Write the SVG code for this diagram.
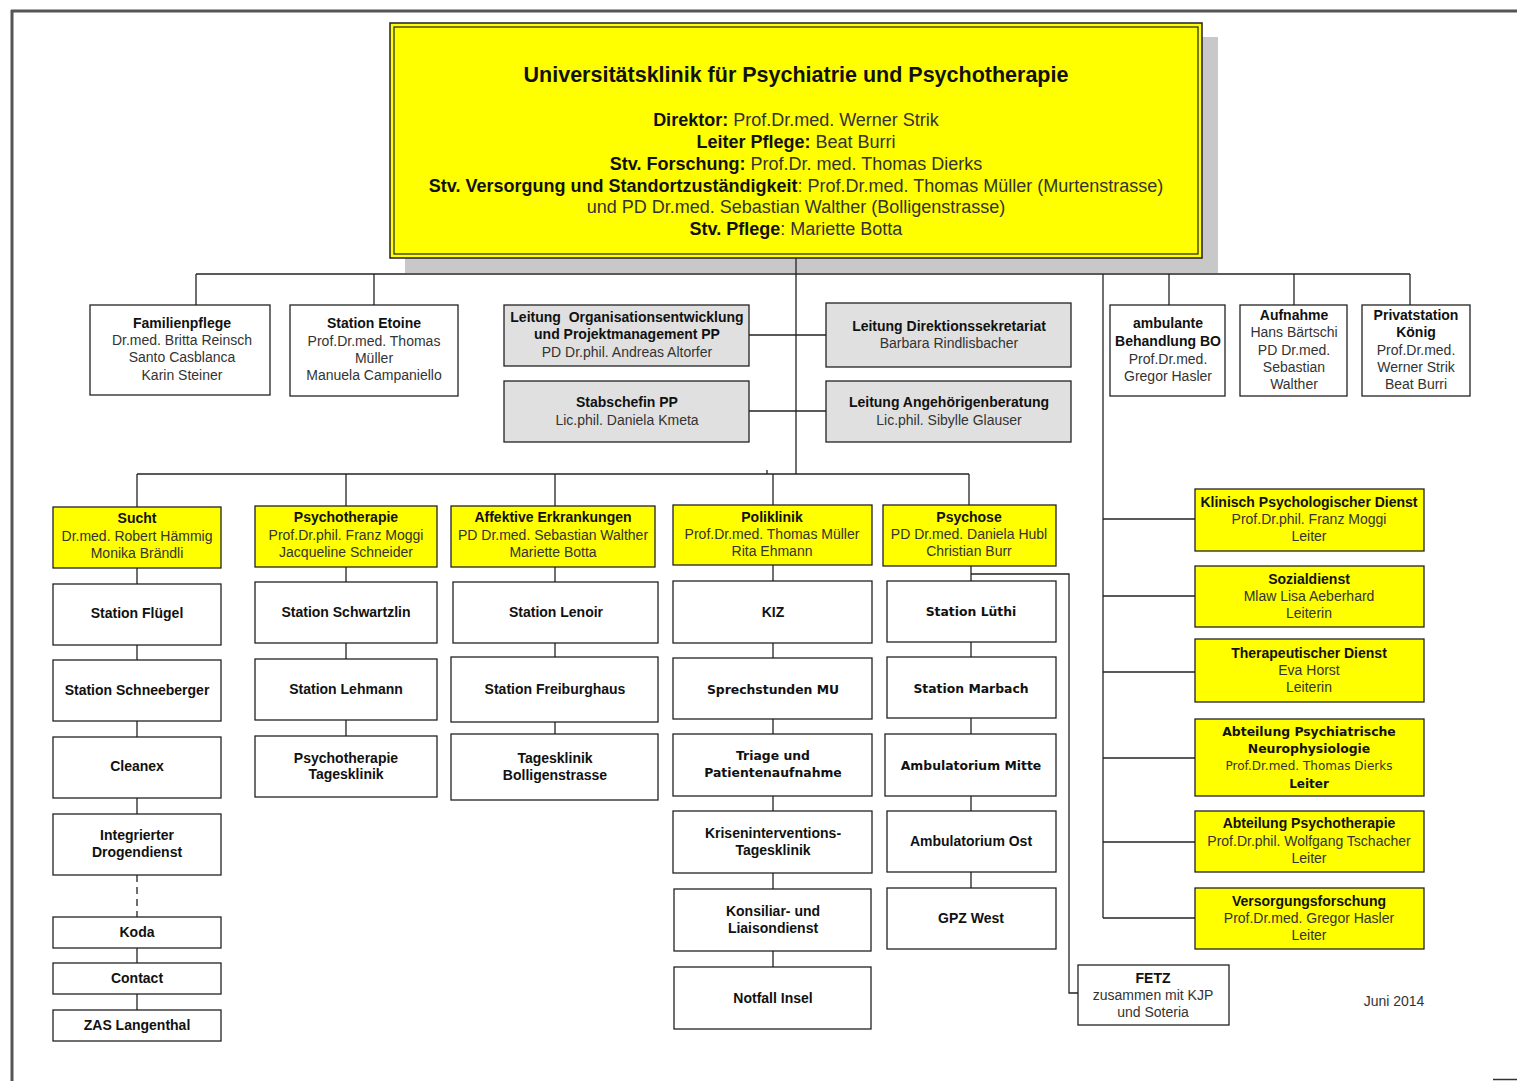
<svg xmlns="http://www.w3.org/2000/svg" width="1517" height="1081" viewBox="0 0 1517 1081">
<style>
text{font-family:"Liberation Sans",Arial,sans-serif;font-size:14px;text-anchor:middle;fill:#333}
.b{font-weight:bold;fill:#111}
.t{font-size:18px}
.h{font-size:21.5px;font-weight:bold;fill:#111}
.d{font-family:"DejaVu Sans",sans-serif;font-size:12.4px;font-weight:bold;fill:#111}
.dn{font-family:"DejaVu Sans",sans-serif;font-size:12px;fill:#333}
.w{fill:#fff;stroke:#222;stroke-width:1.3}
.g{fill:#e0e0e0;stroke:#222;stroke-width:1.3}
.y{fill:#ffff00;stroke:#222;stroke-width:1.3}
.c line,.c path{stroke:#222;stroke-width:1.3;fill:none}
</style>
<rect width="1517" height="1081" fill="#fff"/>
<g id="frame">
<line x1="12" y1="10" x2="12" y2="1081" stroke="#555" stroke-width="3"/>
<line x1="11" y1="11" x2="1517" y2="11" stroke="#555" stroke-width="3"/>
<line x1="1493" y1="1079.5" x2="1517" y2="1079.5" stroke="#333" stroke-width="1.5"/>
</g>
<rect x="405" y="37" width="813" height="236" fill="#c8c8c8"/>
<g class="c" id="connectors">
<line x1="796" y1="258" x2="796" y2="474"/>
<line x1="196" y1="274" x2="1410" y2="274"/>
<line x1="196" y1="274" x2="196" y2="305"/>
<line x1="374" y1="274" x2="374" y2="305"/>
<line x1="1169" y1="274" x2="1169" y2="305"/>
<line x1="1294" y1="274" x2="1294" y2="305"/>
<line x1="1410" y1="274" x2="1410" y2="305"/>
<line x1="749" y1="335" x2="826" y2="335"/>
<line x1="749" y1="411" x2="826" y2="411"/>
<line x1="137" y1="474" x2="969" y2="474"/>
<line x1="767" y1="470" x2="767" y2="474"/>
<line x1="137" y1="474" x2="137" y2="507"/>
<line x1="346" y1="474" x2="346" y2="506"/>
<line x1="555" y1="474" x2="555" y2="506"/>
<line x1="773" y1="474" x2="773" y2="505"/>
<line x1="969" y1="474" x2="969" y2="505"/>
<line x1="1103" y1="274" x2="1103" y2="918"/>
<line x1="1103" y1="519" x2="1195" y2="519"/>
<line x1="1103" y1="596" x2="1195" y2="596"/>
<line x1="1103" y1="672" x2="1195" y2="672"/>
<line x1="1103" y1="758" x2="1195" y2="758"/>
<line x1="1103" y1="842" x2="1195" y2="842"/>
<line x1="1103" y1="918" x2="1195" y2="918"/>
<line x1="137" y1="568" x2="137" y2="584"/>
<line x1="137" y1="645" x2="137" y2="660"/>
<line x1="137" y1="721" x2="137" y2="737"/>
<line x1="137" y1="798" x2="137" y2="814"/>
<line x1="137" y1="875" x2="137" y2="917" stroke="#888" stroke-dasharray="7,5"/>
<line x1="137" y1="948" x2="137" y2="963"/>
<line x1="137" y1="994" x2="137" y2="1010"/>
<line x1="346" y1="567" x2="346" y2="582"/>
<line x1="346" y1="643" x2="346" y2="659"/>
<line x1="346" y1="720" x2="346" y2="736"/>
<line x1="555" y1="567" x2="555" y2="582"/>
<line x1="555" y1="643" x2="555" y2="657"/>
<line x1="555" y1="722" x2="555" y2="734"/>
<line x1="773" y1="565" x2="773" y2="581"/>
<line x1="773" y1="643" x2="773" y2="658"/>
<line x1="773" y1="719" x2="773" y2="734"/>
<line x1="773" y1="796" x2="773" y2="811"/>
<line x1="773" y1="873" x2="773" y2="889"/>
<line x1="773" y1="951" x2="773" y2="967"/>
<line x1="971" y1="566" x2="971" y2="581"/>
<line x1="971" y1="642" x2="971" y2="657"/>
<line x1="971" y1="718" x2="971" y2="734" stroke="#999"/>
<line x1="971" y1="796" x2="971" y2="811" stroke="#999"/>
<line x1="971" y1="872" x2="971" y2="888"/>
<path d="M971 574 H1069 V993 H1078"/>
</g>
<g id="top">
<rect x="390" y="23" width="812" height="235" fill="#ffff00" stroke="#222" stroke-width="1.5"/>
<rect x="394" y="27" width="804" height="227" fill="none" stroke="#222" stroke-width="1.2"/>
<text class="h" x="796" y="82">Universitätsklinik für Psychiatrie und Psychotherapie</text>
<text class="t" x="796" y="126"><tspan class="b">Direktor:</tspan> Prof.Dr.med. Werner Strik</text>
<text class="t" x="796" y="148"><tspan class="b">Leiter Pflege:</tspan> Beat Burri</text>
<text class="t" x="796" y="170"><tspan class="b">Stv. Forschung:</tspan> Prof.Dr. med. Thomas Dierks</text>
<text class="t" x="796" y="192"><tspan class="b">Stv. Versorgung und Standortzuständigkeit</tspan>: Prof.Dr.med. Thomas Müller (Murtenstrasse)</text>
<text class="t" x="796" y="213">und PD Dr.med. Sebastian Walther (Bolligenstrasse)</text>
<text class="t" x="796" y="235"><tspan class="b">Stv. Pflege</tspan>: Mariette Botta</text>
</g>
<g id="familienpflege"><rect class="w" x="90" y="305" width="180" height="90"/>
<text class="b" x="182" y="328">Familienpflege</text><text x="182" y="345">Dr.med. Britta Reinsch</text><text x="182" y="362">Santo Casblanca</text><text x="182" y="380">Karin Steiner</text></g>
<g id="etoine"><rect class="w" x="290" y="305" width="168" height="91"/>
<text class="b" x="374" y="328">Station Etoine</text><text x="374" y="346">Prof.Dr.med. Thomas</text><text x="374" y="363">Müller</text><text x="374" y="380">Manuela Campaniello</text></g>
<g id="orgentw"><rect class="g" x="504" y="305" width="245" height="61"/>
<text class="b" x="627" y="322" xml:space="preserve">Leitung  Organisationsentwicklung</text><text class="b" x="627" y="339">und Projektmanagement PP</text><text x="627" y="357">PD Dr.phil. Andreas Altorfer</text></g>
<g id="direktion"><rect class="g" x="826" y="303" width="245" height="64"/>
<text class="b" x="949" y="331">Leitung Direktionssekretariat</text><text x="949" y="348">Barbara Rindlisbacher</text></g>
<g id="stabschefin"><rect class="g" x="504" y="381" width="245" height="61"/>
<text class="b" x="627" y="407">Stabschefin PP</text><text x="627" y="425">Lic.phil. Daniela Kmeta</text></g>
<g id="angehoerige"><rect class="g" x="826" y="381" width="245" height="61"/>
<text class="b" x="949" y="407">Leitung Angehörigenberatung</text><text x="949" y="425">Lic.phil. Sibylle Glauser</text></g>
<g id="ambulante"><rect class="w" x="1110" y="305" width="115" height="91"/>
<text class="b" x="1168" y="328">ambulante</text><text class="b" x="1168" y="346">Behandlung BO</text><text x="1168" y="364">Prof.Dr.med.</text><text x="1168" y="381">Gregor Hasler</text></g>
<g id="aufnahme"><rect class="w" x="1240" y="305" width="107" height="91"/>
<text class="b" x="1294" y="320">Aufnahme</text><text x="1294" y="337">Hans Bärtschi</text><text x="1294" y="355">PD Dr.med.</text><text x="1294" y="372">Sebastian</text><text x="1294" y="389">Walther</text></g>
<g id="privat"><rect class="w" x="1362" y="305" width="108" height="91"/>
<text class="b" x="1416" y="320">Privatstation</text><text class="b" x="1416" y="337">König</text><text x="1416" y="355">Prof.Dr.med.</text><text x="1416" y="372">Werner Strik</text><text x="1416" y="389">Beat Burri</text></g>

<g id="sucht"><rect class="y" x="53" y="507" width="168" height="61"/>
<text class="b" x="137" y="523">Sucht</text><text x="137" y="541">Dr.med. Robert Hämmig</text><text x="137" y="558">Monika Brändli</text></g>
<g id="psychotherapie"><rect class="y" x="255" y="506" width="182" height="61"/>
<text class="b" x="346" y="522">Psychotherapie</text><text x="346" y="540">Prof.Dr.phil. Franz Moggi</text><text x="346" y="557">Jacqueline Schneider</text></g>
<g id="affektive"><rect class="y" x="451" y="506" width="204" height="61"/>
<text class="b" x="553" y="522">Affektive Erkrankungen</text><text x="553" y="540">PD Dr.med. Sebastian Walther</text><text x="553" y="557">Mariette Botta</text></g>
<g id="poliklinik"><rect class="y" x="673" y="505" width="199" height="60"/>
<text class="b" x="772" y="522">Poliklinik</text><text x="772" y="539">Prof.Dr.med. Thomas Müller</text><text x="772" y="556">Rita Ehmann</text></g>
<g id="psychose"><rect class="y" x="883" y="505" width="173" height="61"/>
<text class="b" x="969" y="522">Psychose</text><text x="969" y="539">PD Dr.med. Daniela Hubl</text><text x="969" y="556">Christian Burr</text></g>

<g id="fluegel"><rect class="w" x="53" y="584" width="168" height="61"/><text class="b" x="137" y="618">Station Flügel</text></g>
<g id="schneeberger"><rect class="w" x="53" y="660" width="168" height="61"/><text class="b" x="137" y="695">Station Schneeberger</text></g>
<g id="cleanex"><rect class="w" x="53" y="737" width="168" height="61"/><text class="b" x="137" y="771">Cleanex</text></g>
<g id="idd"><rect class="w" x="53" y="814" width="168" height="61"/><text class="b" x="137" y="840">Integrierter</text><text class="b" x="137" y="857">Drogendienst</text></g>
<g id="koda"><rect class="w" x="53" y="917" width="168" height="31"/><text class="b" x="137" y="937">Koda</text></g>
<g id="contact"><rect class="w" x="53" y="963" width="168" height="31"/><text class="b" x="137" y="983">Contact</text></g>
<g id="zas"><rect class="w" x="53" y="1010" width="168" height="31"/><text class="b" x="137" y="1030">ZAS Langenthal</text></g>

<g id="schwartzlin"><rect class="w" x="255" y="582" width="182" height="61"/><text class="b" x="346" y="617">Station Schwartzlin</text></g>
<g id="lehmann"><rect class="w" x="255" y="659" width="182" height="61"/><text class="b" x="346" y="694">Station Lehmann</text></g>
<g id="ptk"><rect class="w" x="255" y="736" width="182" height="61"/><text class="b" x="346" y="763">Psychotherapie</text><text class="b" x="346" y="779">Tagesklinik</text></g>

<g id="lenoir"><rect class="w" x="453" y="582" width="205" height="61"/><text class="b" x="556" y="617">Station Lenoir</text></g>
<g id="freiburghaus"><rect class="w" x="451" y="657" width="207" height="65"/><text class="b" x="555" y="694">Station Freiburghaus</text></g>
<g id="tkb"><rect class="w" x="451" y="734" width="207" height="66"/><text class="b" x="555" y="763">Tagesklinik</text><text class="b" x="555" y="780">Bolligenstrasse</text></g>

<g id="kiz"><rect class="w" x="673" y="581" width="199" height="62"/><text class="b" x="773" y="617">KIZ</text></g>
<g id="sprechstunden"><rect class="w" x="673" y="658" width="199" height="61"/><text class="d" x="773" y="694">Sprechstunden MU</text></g>
<g id="triage"><rect class="w" x="673" y="734" width="199" height="62"/><text class="d" x="773" y="760">Triage und</text><text class="d" x="773" y="777">Patientenaufnahme</text></g>
<g id="krisen"><rect class="w" x="673" y="811" width="199" height="62"/><text class="b" x="773" y="838">Kriseninterventions-</text><text class="b" x="773" y="855">Tagesklinik</text></g>
<g id="konsiliar"><rect class="w" x="674" y="889" width="197" height="62"/><text class="b" x="773" y="916">Konsiliar- und</text><text class="b" x="773" y="933">Liaisondienst</text></g>
<g id="notfall"><rect class="w" x="674" y="967" width="197" height="62"/><text class="b" x="773" y="1003">Notfall Insel</text></g>

<g id="luethi"><rect class="w" x="887" y="581" width="169" height="61"/><text class="d" x="971" y="616">Station Lüthi</text></g>
<g id="marbach"><rect class="w" x="887" y="657" width="169" height="61"/><text class="d" x="971" y="693">Station Marbach</text></g>
<g id="ambmitte"><rect class="w" x="885" y="734" width="171" height="62"/><text class="d" x="971" y="770">Ambulatorium Mitte</text></g>
<g id="ambost"><rect class="w" x="887" y="811" width="169" height="61"/><text class="b" x="971" y="846">Ambulatorium Ost</text></g>
<g id="gpz"><rect class="w" x="887" y="888" width="169" height="61"/><text class="b" x="971" y="923">GPZ West</text></g>
<g id="fetz"><rect class="w" x="1078" y="965" width="151" height="60"/><text class="b" x="1153" y="983">FETZ</text><text x="1153" y="1000">zusammen mit KJP</text><text x="1153" y="1017">und Soteria</text></g>

<g id="kpd"><rect class="y" x="1195" y="489" width="229" height="62"/><text class="b" x="1309" y="507">Klinisch Psychologischer Dienst</text><text x="1309" y="524">Prof.Dr.phil. Franz Moggi</text><text x="1309" y="541">Leiter</text></g>
<g id="sozial"><rect class="y" x="1195" y="566" width="229" height="61"/><text class="b" x="1309" y="584">Sozialdienst</text><text x="1309" y="601">Mlaw Lisa Aeberhard</text><text x="1309" y="618">Leiterin</text></g>
<g id="therapeut"><rect class="y" x="1195" y="639" width="229" height="63"/><text class="b" x="1309" y="658">Therapeutischer Dienst</text><text x="1309" y="675">Eva Horst</text><text x="1309" y="692">Leiterin</text></g>
<g id="neurophys"><rect class="y" x="1195" y="719" width="229" height="77"/><text class="d" x="1309" y="736">Abteilung Psychiatrische</text><text class="d" x="1309" y="753">Neurophysiologie</text><text class="dn" x="1309" y="770">Prof.Dr.med. Thomas Dierks</text><text class="d" x="1309" y="788" style="font-size:12px">Leiter</text></g>
<g id="abtpt"><rect class="y" x="1195" y="811" width="229" height="61"/><text class="b" x="1309" y="828">Abteilung Psychotherapie</text><text x="1309" y="846">Prof.Dr.phil. Wolfgang Tschacher</text><text x="1309" y="863">Leiter</text></g>
<g id="versorgung"><rect class="y" x="1195" y="888" width="229" height="61"/><text class="b" x="1309" y="906">Versorgungsforschung</text><text x="1309" y="923">Prof.Dr.med. Gregor Hasler</text><text x="1309" y="940">Leiter</text></g>

<text x="1394" y="1006">Juni 2014</text>
</svg>
